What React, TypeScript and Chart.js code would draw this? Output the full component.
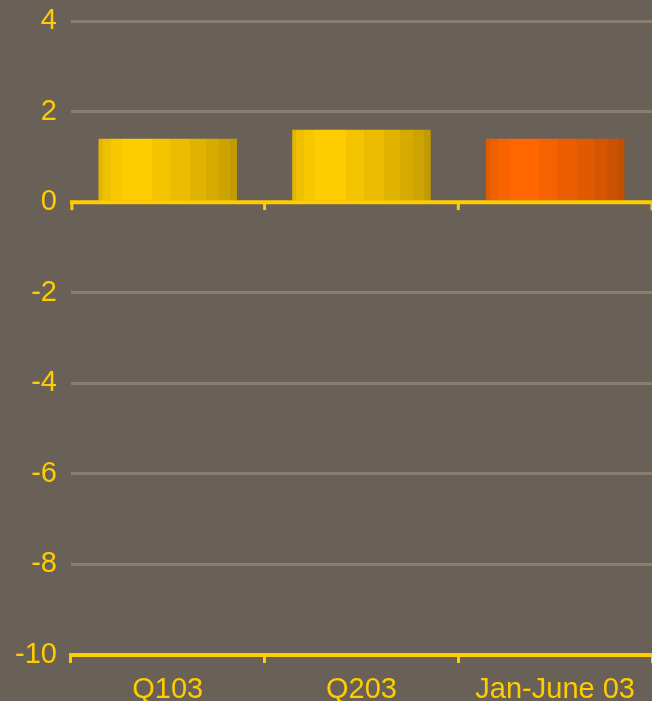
import React, { useEffect, useRef } from "react";
import { Chart, registerables } from "chart.js";

Chart.register(...registerables);

const categories = ["Q103", "Q203", "Jan-June 03"];
const values = [1.4, 1.6, 1.4];
const yTicks = [-10, -8, -6, -4, -2, 0, 2, 4];

const BG = "#696057";
const GRID = "#8A7C70";
const YELLOW = "#FFCC00";
const FONT = "'Liberation Sans', Arial, sans-serif";

const stripeStops = [0, 0.029, 0.087, 0.167, 0.385, 0.516, 0.661, 0.777, 0.872, 0.952, 1];
const yellowStripes = ["#E3B600", "#EFC000", "#F7C700", "#FFCC00", "#F5C400", "#EBBC00", "#E0B300", "#D6AB00", "#CCA300", "#C29B00"];
const orangeStripes = ["#E35B00", "#EF6000", "#F76300", "#FF6600", "#F56200", "#EB5E00", "#E05A00", "#D65500", "#CC5100", "#C24E00"];
const barPalettes = [yellowStripes, yellowStripes, orangeStripes];
const BAR_PCT = 0.715;

const zeroPad = (axis: any) => {
  axis.paddingTop = 0;
  axis.paddingBottom = 0;
  axis.paddingLeft = 0;
  axis.paddingRight = 0;
};

export default function App() {
  const ref = useRef<HTMLCanvasElement>(null);

  useEffect(() => {
    document.body.style.margin = "0";
    document.body.style.background = BG;
    const canvas = ref.current;
    if (!canvas) return;

    const zeroLine = {
      id: "zeroLine",
      afterDatasetsDraw(chart: any) {
        const { ctx, chartArea, scales } = chart;
        const y = scales.y.getPixelForValue(0);
        ctx.save();
        ctx.strokeStyle = YELLOW;
        ctx.lineWidth = 4;
        ctx.beginPath();
        ctx.moveTo(chartArea.left - 1, y);
        ctx.lineTo(chartArea.right, y);
        ctx.stroke();
        ctx.lineWidth = 3;
        const n = categories.length;
        const cw = chartArea.width / n;
        for (let i = 0; i <= n; i++) {
          const x = chartArea.left + i * cw + (i === 0 ? 1 : 0);
          ctx.beginPath();
          ctx.moveTo(x, y);
          ctx.lineTo(x, y + 8);
          ctx.stroke();
        }
        ctx.restore();
      },
    };

    const chart = new Chart(canvas, {
      type: "bar",
      data: {
        labels: categories,
        datasets: [
          {
            data: values,
            barPercentage: BAR_PCT,
            categoryPercentage: 1,
            borderWidth: 0,
            backgroundColor: (c: any) => {
              const ch = c.chart;
              const area = ch.chartArea;
              const pal = barPalettes[c.dataIndex] || yellowStripes;
              if (!area) return pal[3];
              const cx = ch.scales.x.getPixelForValue(c.dataIndex);
              const w = (area.width / categories.length) * BAR_PCT;
              const g = ch.ctx.createLinearGradient(cx - w / 2, 0, cx + w / 2, 0);
              for (let i = 0; i < pal.length; i++) {
                g.addColorStop(stripeStops[i], pal[i]);
                g.addColorStop(stripeStops[i + 1] - (i < pal.length - 1 ? 0.0001 : 0), pal[i]);
              }
              return g;
            },
          },
        ],
      },
      options: {
        animation: false,
        responsive: true,
        maintainAspectRatio: false,
        layout: { autoPadding: false, padding: { top: 21, right: 0, left: 1, bottom: -15 } },
        plugins: { legend: { display: false }, tooltip: { enabled: false } },
        scales: {
          x: {
            offset: true,
            afterFit: zeroPad,
            grid: {
              offset: true,
              drawOnChartArea: false,
              drawTicks: true,
              tickLength: 8,
              color: YELLOW,
              lineWidth: 3,
            },
            border: { display: true, color: YELLOW, width: 4 },
            ticks: {
              color: YELLOW,
              font: { family: FONT, size: 29, lineHeight: 1.0 },
              padding: 12,
              maxRotation: 0,
            },
          },
          y: {
            min: -10,
            max: 4,
            afterFit: zeroPad,
            afterBuildTicks: (axis: any) => {
              axis.ticks = yTicks.map((v) => ({ value: v }));
            },
            grid: {
              drawTicks: false,
              color: (c: any) => (c.tick && (c.tick.value === 0 || c.tick.value === -10) ? "rgba(0,0,0,0)" : GRID),
              lineWidth: 3,
            },
            border: { display: false },
            ticks: {
              color: YELLOW,
              font: { family: FONT, size: 29 },
              padding: 14,
            },
          },
        },
      },
      plugins: [zeroLine],
    });

    return () => chart.destroy();
  }, []);

  return (
    <div style={{ position: "fixed", left: 0, top: 0, width: 652, height: 701, background: BG }}>
      <canvas ref={ref} />
    </div>
  );
}
